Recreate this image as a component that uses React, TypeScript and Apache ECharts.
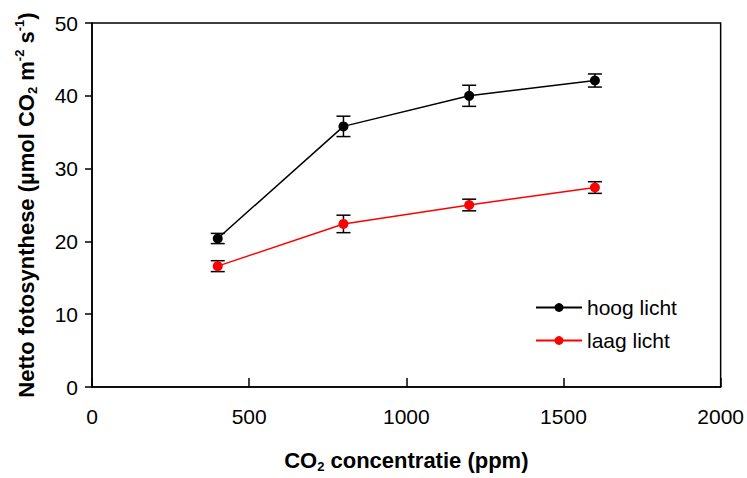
import React, { useEffect, useRef } from "react";
import * as echarts from "echarts";

const co2 = [400, 800, 1200, 1600];
const hoog = [20.4, 35.8, 40.0, 42.1];
const hoogErr = [0.7, 1.4, 1.45, 0.9];
const laag = [16.6, 22.4, 25.0, 27.4];
const laagErr = [0.75, 1.2, 0.8, 0.8];
const xTicks = [0, 500, 1000, 1500, 2000];
const yTicks = [0, 10, 20, 30, 40, 50];

const FONT = "'Liberation Sans', Arial, sans-serif";
const TITLE = 22;
const SMALL = 13;

export default function App() {
  const ref = useRef<HTMLDivElement>(null);
  useEffect(() => {
    if (!ref.current) return;
    const chart = echarts.init(ref.current, null, { renderer: "svg" });
    const errData = (vals: number[], errs: number[]) =>
      co2.map((x, i) => [x, vals[i] - errs[i], vals[i] + errs[i]]);
    const renderErr = (params: any, api: any) => {
      const x = api.value(0);
      const lo = api.coord([x, api.value(1)]);
      const hi = api.coord([x, api.value(2)]);
      const half = 7;
      const st = { stroke: "#000", lineWidth: 1.5 };
      return {
        type: "group",
        children: [
          { type: "line", shape: { x1: lo[0], y1: lo[1], x2: hi[0], y2: hi[1] }, style: st },
          { type: "line", shape: { x1: lo[0] - half, y1: lo[1], x2: lo[0] + half, y2: lo[1] }, style: st },
          { type: "line", shape: { x1: hi[0] - half, y1: hi[1], x2: hi[0] + half, y2: hi[1] }, style: st },
        ],
      };
    };
    const base = { fontWeight: "bold", color: "#000", fontFamily: FONT, lineHeight: 26 };
    chart.setOption({
      animation: false,
      textStyle: { fontFamily: FONT },
      grid: {
        left: 92,
        top: 23,
        right: 26,
        bottom: 86,
        show: true,
        borderColor: "#000",
        borderWidth: 1.5,
        backgroundColor: "transparent",
      },
      legend: {
        orient: "vertical",
        left: 530,
        top: 292,
        itemWidth: 46,
        itemHeight: 11,
        itemGap: 12,
        textStyle: { fontSize: 21, color: "#000", fontFamily: FONT },
        data: ["hoog licht", "laag licht"],
      },
      xAxis: {
        type: "value",
        min: xTicks[0],
        max: xTicks[xTicks.length - 1],
        interval: 500,
        name: "{b|CO}{sub|2}{b| concentratie (ppm)}",
        nameLocation: "middle",
        nameGap: 60,
        nameTextStyle: {
          rich: {
            b: { ...base, fontSize: TITLE },
            sub: { ...base, fontSize: SMALL, verticalAlign: "bottom" },
          },
        },
        axisLine: { lineStyle: { color: "#000", width: 1.5 } },
        axisTick: { inside: true, length: 9, lineStyle: { color: "#000", width: 1.5 } },
        axisLabel: {
          fontSize: 21,
          color: "#000",
          margin: 19,
          fontFamily: FONT,
          formatter: (v: number) => String(v),
        },
        splitLine: { show: false },
      },
      yAxis: {
        type: "value",
        min: yTicks[0],
        max: yTicks[yTicks.length - 1],
        interval: 10,
        name: "{b|Netto fotosynthese (µmol CO}{sub|2}{b| m}{sup|-2}{b| s}{sup|-1}{b|)}",
        nameLocation: "middle",
        nameGap: 53,
        nameTextStyle: {
          rich: {
            b: { ...base, fontSize: TITLE },
            sub: { ...base, fontSize: SMALL, verticalAlign: "bottom" },
            sup: { ...base, fontSize: SMALL, verticalAlign: "top" },
          },
        },
        axisLine: { lineStyle: { color: "#000", width: 1.5 } },
        axisTick: { inside: false, length: 7, lineStyle: { color: "#000", width: 1.5 } },
        axisLabel: {
          fontSize: 21,
          color: "#000",
          margin: 14,
          fontFamily: FONT,
          formatter: (v: number) => String(v),
        },
        splitLine: { show: false },
      },
      series: [
        {
          type: "custom",
          name: "err-hoog",
          renderItem: renderErr,
          data: errData(hoog, hoogErr),
          encode: { x: 0, y: [1, 2] },
          z: 1,
        },
        {
          type: "custom",
          name: "err-laag",
          renderItem: renderErr,
          data: errData(laag, laagErr),
          encode: { x: 0, y: [1, 2] },
          z: 1,
        },
        {
          type: "line",
          name: "hoog licht",
          data: co2.map((x, i) => [x, hoog[i]]),
          symbol: "circle",
          symbolSize: 10,
          color: "#000",
          lineStyle: { color: "#000", width: 1.5 },
          itemStyle: { color: "#000" },
          z: 3,
        },
        {
          type: "line",
          name: "laag licht",
          data: co2.map((x, i) => [x, laag[i]]),
          symbol: "circle",
          symbolSize: 10,
          color: "#ff0000",
          lineStyle: { color: "#ff0000", width: 1.5 },
          itemStyle: { color: "#ff0000" },
          z: 3,
        },
      ],
    });
    return () => chart.dispose();
  }, []);
  return (
    <div
      ref={ref}
      style={{ position: "fixed", left: 0, top: 0, width: 747, height: 478, background: "#fff" }}
    />
  );
}
